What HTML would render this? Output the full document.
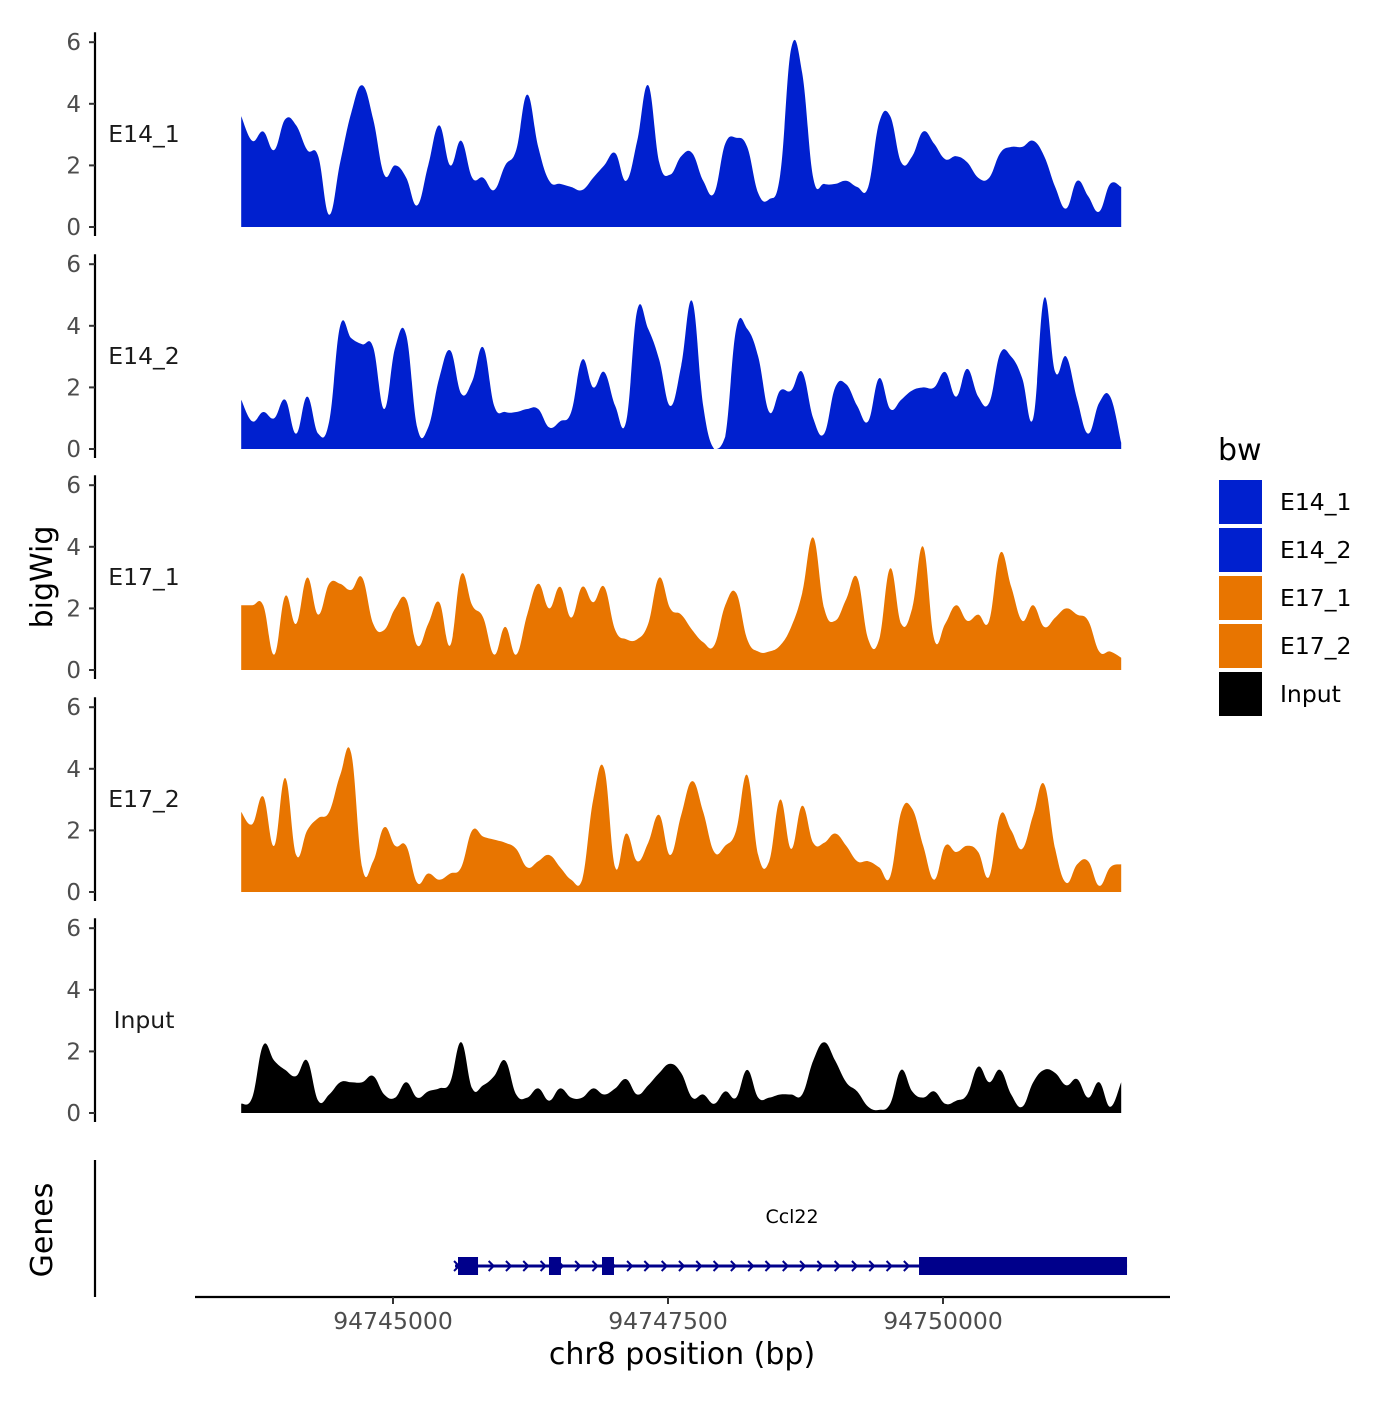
<!DOCTYPE html>
<html><head><meta charset="utf-8"><style>
body{margin:0;background:#fff}
text{font-family:"DejaVu Sans","Liberation Sans",sans-serif}
</style></head><body>
<svg id="chart" width="1400" height="1400" viewBox="0 0 1400 1400" xmlns="http://www.w3.org/2000/svg">
<rect width="1400" height="1400" fill="#fff"/>
</svg>
<script>
const seriesNames = ["E14_1","E14_2","E17_1","E17_2","Input"];
const seriesColors = ["#0020cf","#0020cf","#e87500","#e87500","#000000"];
const binStart = 94743620;
const binStep = 100;
const yTicks = [0,2,4,6];
const xTicks = [94745000,94747500,94750000];
const e14_1 = [3.6,2.8,3.1,2.5,3.5,3.3,2.5,2.3,0.4,2.1,3.7,4.6,3.5,1.7,2.0,1.6,0.7,2.0,3.3,2.0,2.8,1.6,1.6,1.2,2.0,2.5,4.3,2.6,1.5,1.4,1.3,1.2,1.6,2.0,2.4,1.5,2.8,4.6,2.1,1.7,2.3,2.4,1.5,1.1,2.7,2.9,2.6,1.1,0.9,1.7,5.8,5.0,1.6,1.4,1.4,1.5,1.3,1.3,3.4,3.6,2.1,2.3,3.1,2.7,2.2,2.3,2.1,1.6,1.6,2.4,2.6,2.6,2.8,2.3,1.3,0.6,1.5,1.0,0.5,1.4,1.3];
const e14_2 = [1.6,0.9,1.2,1.0,1.6,0.5,1.7,0.5,0.9,4.0,3.6,3.4,3.3,1.3,3.3,3.7,0.7,0.7,2.3,3.2,1.8,2.2,3.3,1.4,1.2,1.2,1.3,1.3,0.7,0.9,1.2,2.9,2.0,2.5,1.4,0.9,4.5,3.9,2.9,1.4,2.7,4.8,1.4,0,0.4,3.9,3.9,3.0,1.2,1.9,1.9,2.5,1.0,0.5,2.0,2.1,1.4,0.9,2.3,1.3,1.6,1.9,2.0,2.0,2.5,1.7,2.6,1.7,1.5,3.1,3.0,2.3,1.0,4.9,2.5,3.0,1.6,0.5,1.5,1.7,0.2];
const e17_1 = [2.1,2.1,2.1,0.5,2.4,1.5,3.0,1.8,2.8,2.8,2.6,3.0,1.5,1.3,2.0,2.3,0.8,1.5,2.2,0.8,3.1,2.1,1.7,0.5,1.4,0.5,1.8,2.8,2.0,2.7,1.7,2.7,2.2,2.7,1.3,1.0,1.0,1.5,3.0,2.0,1.8,1.3,0.9,0.8,2.1,2.5,1.0,0.6,0.6,0.8,1.4,2.5,4.3,2.0,1.6,2.3,3.0,1.0,1.0,3.3,1.5,2.0,4.0,1.0,1.5,2.1,1.6,1.8,1.6,3.8,2.7,1.6,2.1,1.4,1.7,2.0,1.8,1.6,0.6,0.6,0.4];
const e17_2 = [2.6,2.2,3.1,1.5,3.7,1.2,2.0,2.4,2.6,3.8,4.5,0.8,1.0,2.1,1.5,1.5,0.3,0.6,0.4,0.6,0.8,2.0,1.8,1.7,1.6,1.4,0.8,1.0,1.2,0.8,0.4,0.4,3.0,4.0,0.8,1.9,1.0,1.6,2.5,1.2,2.5,3.6,2.6,1.3,1.5,2.0,3.8,1.2,1.0,3.0,1.4,2.8,1.6,1.6,1.9,1.5,1.0,1.0,0.8,0.5,2.6,2.7,1.5,0.4,1.5,1.3,1.5,1.3,0.5,2.5,2.0,1.4,2.5,3.5,1.4,0.3,0.9,1.0,0.2,0.8,0.9];
const input = [0.3,0.5,2.2,1.7,1.4,1.2,1.7,0.4,0.6,1.0,1.0,1.0,1.2,0.6,0.5,1.0,0.5,0.7,0.8,1.0,2.3,0.8,0.9,1.2,1.7,0.6,0.5,0.8,0.4,0.8,0.5,0.5,0.8,0.6,0.8,1.1,0.6,0.9,1.3,1.6,1.3,0.5,0.6,0.3,0.7,0.5,1.4,0.5,0.5,0.6,0.6,0.6,1.7,2.3,1.7,1.0,0.7,0.2,0.1,0.3,1.4,0.7,0.5,0.7,0.3,0.4,0.6,1.5,1.0,1.4,0.6,0.2,1.0,1.4,1.3,0.9,1.1,0.5,1.0,0.2,1.0];
const geneName = "Ccl22";
const geneStart = 94745564;
const geneEnd = 94751673;
const exonStarts = [94745591,94746418,94746900,94749782];
const exonEnds = [94745773,94746527,94747009,94751673];

const NS="http://www.w3.org/2000/svg";
const svg=document.getElementById('chart');
function mk(tag,attrs,parent){const e=document.createElementNS(NS,tag);for(const k in attrs)e.setAttribute(k,attrs[k]);(parent||svg).appendChild(e);return e;}
function xS(bp){return 393+(bp-94745000)*275/2500;}
const zeroY=[227,449,670,892,1113];
const pxPerUnit=30.8;
const allSeries=[e14_1,e14_2,e17_1,e17_2,input];

allSeries.forEach((vals,i)=>{
  const z=zeroY[i];
  const g=mk('g',{});
  
  
  const pts=vals.map((v,k)=>[xS(binStart+k*binStep), z-v*pxPerUnit]);
  let d='M'+pts[0][0].toFixed(1)+','+z+' L'+pts[0][0].toFixed(1)+','+pts[0][1].toFixed(1);
  const t=0.2;
  for(let k=0;k<pts.length-1;k++){
    const p0=pts[Math.max(k-1,0)],p1=pts[k],p2=pts[k+1],p3=pts[Math.min(k+2,pts.length-1)];
    const c1x=p1[0]+(p2[0]-p0[0])*t, c1y=Math.min(z,p1[1]+(p2[1]-p0[1])*t);
    const c2x=p2[0]-(p3[0]-p1[0])*t, c2y=Math.min(z,p2[1]-(p3[1]-p1[1])*t);
    d+=` C${c1x.toFixed(1)},${c1y.toFixed(1)} ${c2x.toFixed(1)},${c2y.toFixed(1)} ${p2[0].toFixed(1)},${p2[1].toFixed(1)}`;
  }
  d+=' L'+pts[pts.length-1][0].toFixed(1)+','+z+' Z';
  const p=mk('path',{d:d,fill:seriesColors[i],stroke:'none'},g);
  
  
  const ax=mk('line',{x1:95,x2:95,y1:z-6*pxPerUnit-10,y2:z+9,stroke:'#000','stroke-width':2.2},g);
  
  
  yTicks.forEach(tk=>{
    const y=z-tk*pxPerUnit;
    const tl=mk('line',{x1:89,x2:95,y1:y,y2:y,stroke:'#333','stroke-width':2},g);
    
    
    const tx=mk('text',{x:81,y:y+8,'text-anchor':'end','font-size':23,fill:'#4d4d4d'},g);
    tx.textContent=tk;
    
    
  });
  const lb=mk('text',{x:144,y:z-85,'text-anchor':'middle','font-size':23.5,fill:'#1a1a1a'},g);
  lb.textContent=seriesNames[i];
  
  
});

const yt=mk('text',{x:0,y:0,transform:'translate(52,577) rotate(-90)','text-anchor':'middle','font-size':30,fill:'#000'});
yt.textContent='bigWig';



const gg=mk('g',{});


const gax=mk('line',{x1:95,x2:95,y1:1160,y2:1297,stroke:'#000','stroke-width':2.2},gg);


const gt=mk('text',{x:0,y:0,transform:'translate(52,1230) rotate(-90)','text-anchor':'middle','font-size':30,fill:'#000'},gg);
gt.textContent='Genes';


const gl=mk('line',{x1:xS(geneStart),x2:xS(geneEnd),y1:1266,y2:1266,stroke:'#00008b','stroke-width':3},gg);


for(let x=xS(geneStart)+2;x<xS(exonStarts[3]);x+=17.3){
  const c=mk('path',{d:`M${x-3},${1261} L${x+2},${1266} L${x-3},${1271}`,fill:'none',stroke:'#00008b','stroke-width':2},gg);
  
  
}
exonStarts.forEach((s,i)=>{
  const r=mk('rect',{x:xS(s),y:1257,width:xS(exonEnds[i])-xS(s),height:18,fill:'#00008b'},gg);
  
  
});
const gn=mk('text',{x:xS((geneStart+geneEnd)/2)+1,y:1223,'text-anchor':'middle','font-size':19,fill:'#000'},gg);
gn.textContent=geneName;



const xa=mk('line',{x1:195,x2:1170,y1:1297,y2:1297,stroke:'#000','stroke-width':2.2});


xTicks.forEach(tk=>{
  const tl=mk('line',{x1:xS(tk),x2:xS(tk),y1:1297,y2:1304,stroke:'#333','stroke-width':2});
  
  
  const tx=mk('text',{x:xS(tk),y:1329,'text-anchor':'middle','font-size':23.5,fill:'#4d4d4d'});
  tx.textContent=tk;
  
  
});
const xt=mk('text',{x:682,y:1364,'text-anchor':'middle','font-size':30,fill:'#000'});
xt.textContent='chr8 position (bp)';



const lg=mk('g',{});


const ltitle=mk('text',{x:1218,y:460,'font-size':30,fill:'#000'},lg);
ltitle.textContent='bw';


seriesNames.forEach((n,i)=>{
  const y=479+i*48;
  const r=mk('rect',{x:1218,y:y,width:45,height:46,fill:seriesColors[i],stroke:'#fff','stroke-width':2},lg);
  
  
  const t=mk('text',{x:1280,y:y+31,'font-size':23.5,fill:'#000'},lg);
  t.textContent=n;
  
  
});
</script>
</body></html>
